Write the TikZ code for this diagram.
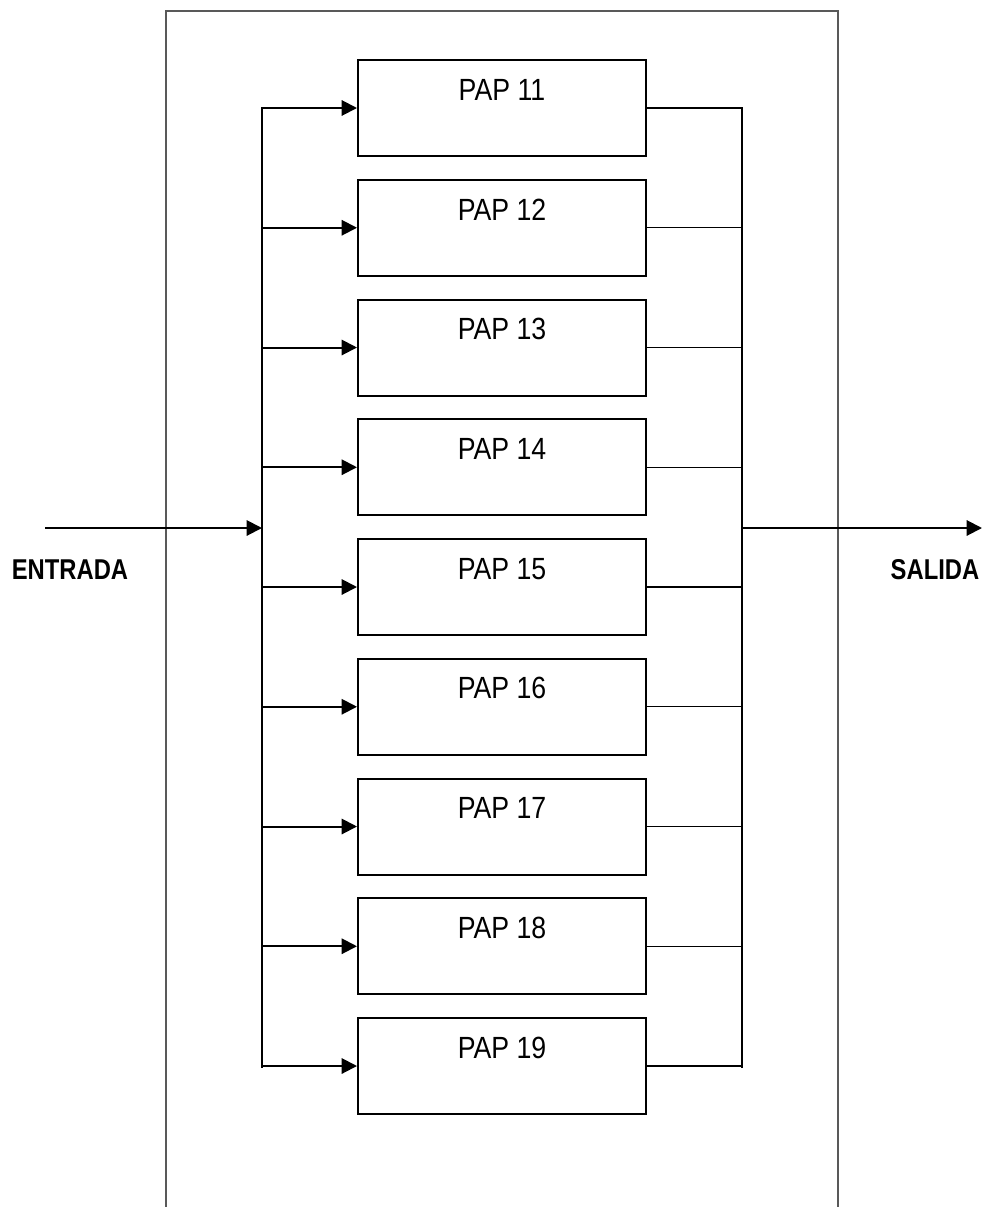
\documentclass[tikz,border=0pt]{standalone}
\usepackage{fontspec}
\setmainfont{Liberation Sans}
\newfontfamily\papfont[FakeStretch=0.87]{Liberation Sans}
\newfontfamily\iofont[FakeStretch=0.83]{Liberation Sans}
\usetikzlibrary{arrows.meta}
\begin{document}
\begin{tikzpicture}[x=0.75pt,y=-0.75pt,
  papbox/.style={draw=black,line width=1.5pt,minimum width=216pt,minimum height=72pt,inner sep=0pt},
  paplabel/.style={font=\papfont\fontsize{23}{26}\selectfont},
  bus/.style={draw=black,line width=1.5pt},
  outconn/.style={draw=black,line width=1.1pt},
  arr/.style={draw=black,line width=1.5pt,-{Triangle[length=11.5pt,width=11.5pt]}},
  iolabel/.style={font=\iofont\fontsize{21.5}{24}\selectfont\bfseries}]
\useasboundingbox (0,0) rectangle (982,1207);
% outer frame (open at bottom)
\draw[gray!70!black,line width=0.8pt] (166,1207) -- (166,11) -- (838,11) -- (838,1207);
% boxes
\foreach \i/\n in {0/11,1/12,2/13,3/14,4/15,5/16,6/17,7/18,8/19}{
  \node[papbox,label={[paplabel,anchor=center,yshift=-23pt]north:PAP \n}] (p\n) at (502,{108+119.75*\i}) {};
}
% buses
\coordinate (lt) at (262,107);
\coordinate (lb) at (262,1068);
\coordinate (rt) at (742,107);
\coordinate (rb) at (742,1068);
\draw[bus] (lt) -- (lb);
\draw[bus] (rt) -- (rb);
\foreach \n in {11,12,13,14,15,16,17,18,19}{
  \draw[arr] (lt |- p\n.west) -- (p\n.west);
  \draw[outconn] (p\n.east) -- (rt |- p\n.east);
}
% input / output
\coordinate (inS) at (45,528);
\coordinate (outE) at (982,528);
\draw[arr] (inS) -- (lt |- inS);
\draw[arr] (rt |- outE) -- (outE);
\node[iolabel] (entrada) at (70,570) {ENTRADA};
\node[iolabel] (salida) at (935,570) {SALIDA};
\end{tikzpicture}
\end{document}
